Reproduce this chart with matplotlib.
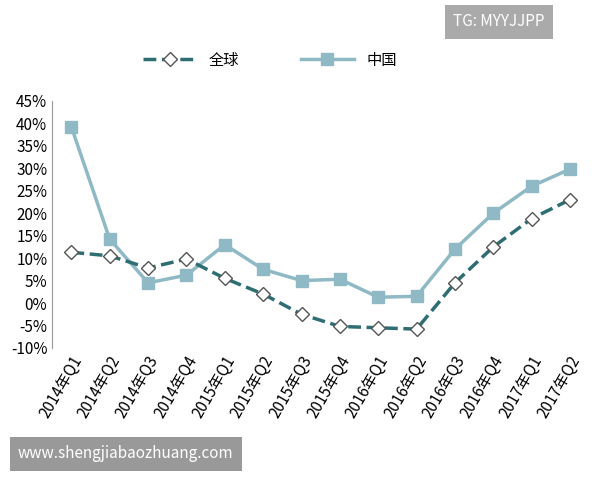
import matplotlib
matplotlib.use("Agg")
import matplotlib.pyplot as plt
from matplotlib.ticker import FuncFormatter

plt.rcParams['font.family'] = ['Noto Sans CJK SC', 'DejaVu Sans']

categories = ["2014年Q1","2014年Q2","2014年Q3","2014年Q4","2015年Q1","2015年Q2","2015年Q3",
              "2015年Q4","2016年Q1","2016年Q2","2016年Q3","2016年Q4","2017年Q1","2017年Q2"]
global_vals = [11.3, 10.5, 7.8, 9.8, 5.5, 2.0, -2.5, -5.2, -5.5, -5.8, 4.5, 12.5, 18.8, 23.0]
china_vals = [39.2, 14.2, 4.5, 6.2, 13.0, 7.5, 5.0, 5.3, 1.3, 1.5, 12.0, 20.0, 26.0, 29.8]
yticks = list(range(-10, 50, 5))

fig = plt.figure(figsize=(6, 4.8), dpi=100)
ax = fig.add_axes([0.087, 0.275, 0.895, 0.515])
x = range(len(categories))
ax.plot(x, china_vals, color='#8fb9c4', lw=2.5, marker='s', ms=8,
        markerfacecolor='#8fb9c4', markeredgecolor='#8fb9c4', label='中国', zorder=2)
ax.plot(x, global_vals, color='#2e6e72', lw=2.5, ls='--', marker='D', ms=7,
        markerfacecolor='white', markeredgecolor='#555555', label='全球', zorder=3)
ax.set_ylim(-10, 45)
ax.set_yticks(yticks)
ax.yaxis.set_major_formatter(FuncFormatter(lambda v, p: f"{int(v)}%"))
ax.set_xlim(-0.5, len(categories) - 0.5)
ax.set_xticks(list(x))
ax.set_xticklabels(categories, rotation=60, ha='right', rotation_mode='anchor', fontsize=11)
ax.tick_params(axis='y', labelsize=11, length=0)
ax.tick_params(axis='x', length=0)
for s in ['top', 'right', 'bottom']:
    ax.spines[s].set_visible(False)
ax.spines['left'].set_color('#999999')
h, l = ax.get_legend_handles_labels()
fig.legend(h[::-1], l[::-1], loc='center', bbox_to_anchor=(0.45, 0.875), ncol=2,
           frameon=False, fontsize=11, handlelength=3.5, columnspacing=4)
fig.text(0.755, 0.955, "TG: MYYJJPP", color='white', fontsize=11, va='center',
         bbox=dict(facecolor='#aaaaaa', edgecolor='none', pad=6))
fig.text(0.03, 0.055, "www.shengjiabaozhuang.com", color='white', fontsize=11, va='center',
         bbox=dict(facecolor='#999999', edgecolor='none', pad=6))
fig.savefig("out.png", dpi=100)
